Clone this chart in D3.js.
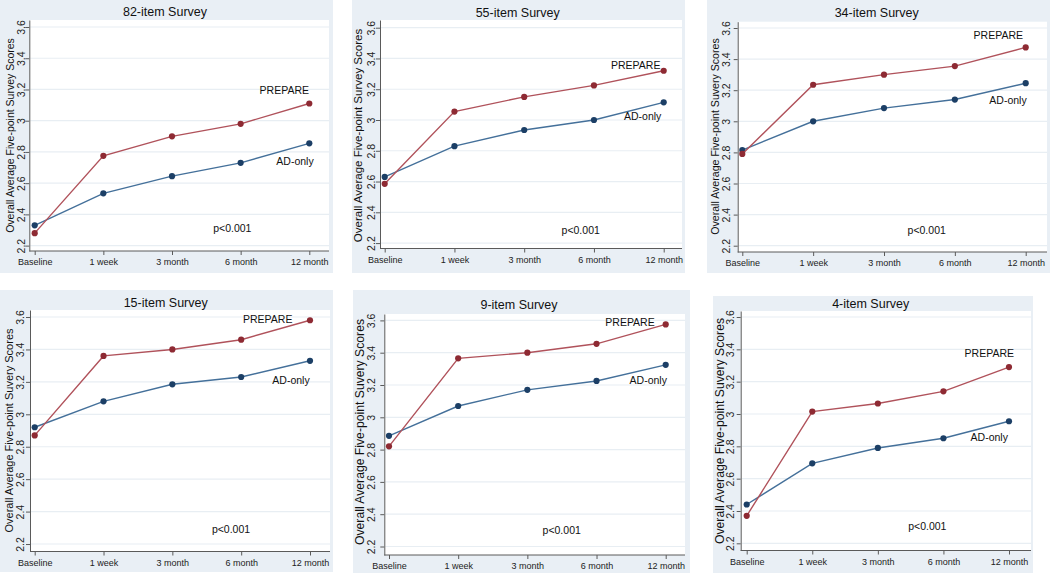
<!DOCTYPE html>
<html>
<head>
<meta charset="utf-8">
<script src="https://cdn.jsdelivr.net/npm/d3@7"></script>
<style>
  html, body { margin: 0; padding: 0; background: #ffffff; }
  svg { display: block; font-family: "Liberation Sans", Arial, sans-serif; }
</style>
</head>
<body>
<svg id="chart" width="1050" height="588"></svg>
<script>
// ---------------- DATA ----------------
const categories = ["Baseline", "1 week", "3 month", "6 month", "12 month"];
const surveyTitles = ["82-item Survey", "55-item Survey", "34-item Survey", "15-item Survey", "9-item Survey", "4-item Survey"];
const yTitles = [
  "Overall Average Five-point Survey Scores",
  "Overall Average Five-point Survey Scores",
  "Overall Average Five-point Suvery Scores",
  "Overall Average Five-point Suvery Scores",
  "Overall Average Five-point Suvery Scores",
  "Overall Average Five-point Suvery Scores"
];
const yTickValues = [2.2, 2.4, 2.6, 2.8, 3.0, 3.2, 3.4, 3.6];
const yTickLabels = ["2.2", "2.4", "2.6", "2.8", "3", "3.2", "3.4", "3.6"];
const seriesNames = ["PREPARE", "AD-only"];
const pValueLabel = "p<0.001";

const prepare82 = [2.28, 2.775, 2.90, 2.98, 3.11];
const adOnly82  = [2.33, 2.535, 2.645, 2.73, 2.855];
const prepare55 = [2.585, 3.055, 3.15, 3.225, 3.32];
const adOnly55  = [2.63, 2.83, 2.935, 3.00, 3.115];
const prepare34 = [2.79, 3.235, 3.30, 3.355, 3.475];
const adOnly34  = [2.815, 3.00, 3.085, 3.14, 3.245];
const prepare15 = [2.87, 3.36, 3.40, 3.46, 3.58];
const adOnly15  = [2.92, 3.08, 3.185, 3.23, 3.33];
const prepare9  = [2.82, 3.365, 3.40, 3.455, 3.575];
const adOnly9   = [2.885, 3.07, 3.17, 3.225, 3.325];
const prepare4  = [2.37, 3.015, 3.065, 3.14, 3.29];
const adOnly4   = [2.44, 2.695, 2.79, 2.85, 2.955];

const prepareSeries = [prepare82, prepare55, prepare34, prepare15, prepare9, prepare4];
const adOnlySeries  = [adOnly82, adOnly55, adOnly34, adOnly15, adOnly9, adOnly4];

// ---------------- LAYOUT ----------------
const layout = [
  { bg:[0,0,333,273],     top:20,  right:329,  ax:29.3,  xa:251,   y3:120.7, step:31.23, c0:34.7,  c4:309.3, t:[165,12],    yt:[10,135.5],    yts:10.5, yl:7.8,
    prep:[284.3,90.7], ad:[295,161], pv:[232.3,228] },
  { bg:[352,0,685,273],   top:20,  right:682,  ax:380,   xa:248.5, y3:120,   step:30.77, c0:384.7, c4:663.7, t:[517.7,13],  yt:[358,135.5],   yts:11.5, yl:8.8,
    prep:[635.7,65], ad:[642.7,116.7], pv:[580.7,230.7] },
  { bg:[707,0,1050,273],  top:21.7,right:1047, ax:737.7, xa:252,   y3:121.3, step:31.1,  c0:742.3, c4:1025.7,t:[876.7,13],  yt:[715.5,136.5], yts:10.6, yl:11,
    prep:[998.3,35.7], ad:[1008,100], pv:[926.7,230] },
  { bg:[0,290,333,572],   top:310, right:330,  ax:30,    xa:551.5, y3:414.3, step:32.43, c0:34.7,  c4:310,   t:[165.7,302.3],yt:[9.5,430.5],  yts:11,   yl:9.5,
    prep:[267.7,319.3], ad:[291,380.7], pv:[231,529.3] },
  { bg:[353,290,690,573], top:314, right:685,  ax:384.3, xa:555,   y3:417.3, step:32.3,  c0:389,   c4:665.7, t:[519,305],   yt:[360,432],     yts:12.2, yl:12.5,
    prep:[630,322.3], ad:[648.3,380.7], pv:[561.7,530.7] },
  { bg:[713,296,1033,573],top:311, right:1031, ax:740.7, xa:550.5, y3:414,   step:32.33, c0:746.7, c4:1009,  t:[870.7,303.3],yt:[719.3,431],  yts:12.2, yl:10.5,
    prep:[989.3,353.3], ad:[989.3,437.7], pv:[927.3,526.7] }
];

const colors = {
  bg: "#e9eff5",
  grid: "#e8eef3",
  axis: "#5a5a5a",
  prepLine: "#b0525b",
  prepDot: "#8e2a33",
  adLine: "#44709a",
  adDot: "#1c3f66",
  text: "#111111"
};

const svg = d3.select("#chart");

layout.forEach((L, i) => {
  const g = svg.append("g");

  // background region
  g.append("rect")
    .attr("x", L.bg[0]).attr("y", L.bg[1])
    .attr("width", L.bg[2] - L.bg[0]).attr("height", L.bg[3] - L.bg[1])
    .attr("fill", colors.bg);

  // plot region
  g.append("rect")
    .attr("x", L.ax).attr("y", L.top)
    .attr("width", L.right - L.ax).attr("height", L.xa - L.top)
    .attr("fill", "#ffffff");

  // scales
  const y = d3.scaleLinear().domain([3.0, 3.2]).range([L.y3, L.y3 - L.step]);
  const vBottom = y.invert(L.xa), vTop = y.invert(L.top);
  y.domain([vBottom, vTop]).range([L.xa, L.top]);

  const x = d3.scalePoint().domain(categories).range([L.c0, L.c4]);

  // grid lines
  g.append("g").selectAll("line").data(yTickValues).join("line")
    .attr("x1", L.ax + 1).attr("x2", L.right)
    .attr("y1", d => y(d)).attr("y2", d => y(d))
    .attr("stroke", colors.grid).attr("stroke-width", 1.2);

  // y axis
  const yAxis = d3.axisLeft(y)
    .tickValues(yTickValues)
    .tickFormat((d, k) => yTickLabels[k])
    .tickSize(4).tickSizeOuter(0);
  const yg = g.append("g").attr("transform", `translate(${L.ax},0)`).call(yAxis);
  yg.select(".domain").attr("stroke", colors.axis);
  yg.selectAll(".tick line").attr("stroke", colors.axis);
  yg.selectAll(".tick text")
    .attr("x", null).attr("dy", "0.35em")
    .attr("transform", `translate(${-L.yl},0) rotate(-90)`)
    .attr("text-anchor", "middle")
    .attr("font-size", 10.5)
    .attr("font-family", "Liberation Sans, Arial, sans-serif")
    .attr("fill", "#222");

  // x axis
  const xAxis = d3.axisBottom(x).tickSize(4).tickPadding(4).tickSizeOuter(0);
  const xg = g.append("g").attr("transform", `translate(0,${L.xa})`).call(xAxis);
  xg.select(".domain").remove();
  xg.selectAll(".tick line").attr("stroke", colors.axis);
  xg.selectAll(".tick text")
    .attr("font-size", 9)
    .attr("font-family", "Liberation Sans, Arial, sans-serif")
    .attr("fill", "#222");
  g.append("line")
    .attr("x1", L.ax).attr("x2", L.right)
    .attr("y1", L.xa).attr("y2", L.xa)
    .attr("stroke", colors.axis).attr("stroke-width", 1);

  // series
  const line = d3.line().x((d, k) => x(categories[k])).y(d => y(d));
  const series = [
    { vals: adOnlySeries[i], lc: colors.adLine, dc: colors.adDot },
    { vals: prepareSeries[i], lc: colors.prepLine, dc: colors.prepDot }
  ];
  series.forEach(s => {
    g.append("path").datum(s.vals)
      .attr("d", line).attr("fill", "none")
      .attr("stroke", s.lc).attr("stroke-width", 1.4);
    g.append("g").selectAll("circle").data(s.vals).join("circle")
      .attr("cx", (d, k) => x(categories[k])).attr("cy", d => y(d))
      .attr("r", 3.1).attr("fill", s.dc);
  });

  // title
  g.append("text")
    .attr("x", L.t[0]).attr("y", L.t[1]).attr("dy", "0.35em")
    .attr("text-anchor", "middle").attr("font-size", 12.5)
    .attr("fill", colors.text).text(surveyTitles[i]);

  // y title
  g.append("text")
    .attr("transform", `translate(${L.yt[0]},${L.yt[1]}) rotate(-90)`)
    .attr("dy", "0.35em")
    .attr("text-anchor", "middle").attr("font-size", L.yts)
    .attr("fill", colors.text).text(yTitles[i]);

  // annotations
  [[seriesNames[0], L.prep], [seriesNames[1], L.ad], [pValueLabel, L.pv]].forEach(([txt, p]) => {
    g.append("text")
      .attr("x", p[0]).attr("y", p[1]).attr("dy", "0.35em")
      .attr("text-anchor", "middle").attr("font-size", 10.5)
      .attr("fill", colors.text).text(txt);
  });
});
</script>
</body>
</html>
